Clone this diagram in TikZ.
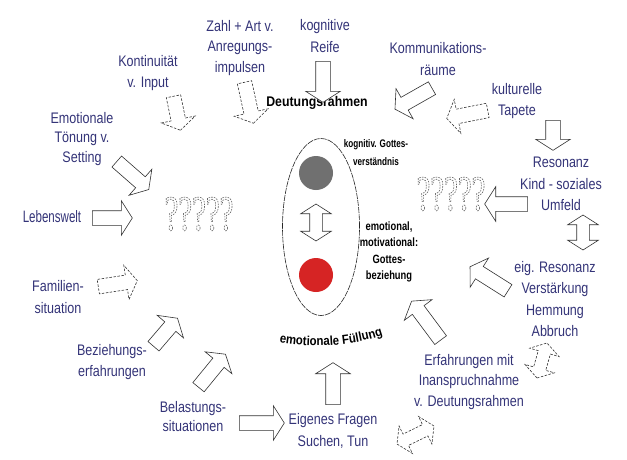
\documentclass[tikz,border=0pt]{standalone}
\usepackage{fontspec}
\setmainfont{Liberation Sans}[FakeStretch=0.82]
\newfontfamily\condfont{Liberation Sans}[FakeStretch=0.7]
\newfontfamily\blackfont{Liberation Sans Bold}[FakeStretch=0.88]
\newfontfamily\narrowblack{Liberation Sans Bold}[FakeStretch=0.74]
\newfontfamily\midblack{Liberation Sans Bold}[FakeStretch=0.78]
\newfontfamily\qfont{Liberation Serif}[FakeStretch=0.62]
\usetikzlibrary{shapes.arrows,shapes.geometric,calc,decorations.text}
\definecolor{txtblue}{RGB}{52,52,120}
\definecolor{grayc}{RGB}{112,112,112}
\definecolor{redc}{RGB}{214,36,36}
\newcommand\outlinetext[1]{\special{pdf:literal direct 1 Tr 0.6 w 0.4 G [1.6 1.1] 0 d}#1\special{pdf:literal direct 0 Tr [] 0 d}}
\newcommand\blockarr[4][]{\path let \p1=(#3), \p2=(#4), \n1={atan2(\y2-\y1,\x2-\x1)}, \n2={veclen(\x2-\x1,\y2-\y1)} in node[barrow,#1,rotate=\n1,minimum height=\n2] (#2) at ($(\p1)!0.5!(\p2)$) {};}
\begin{document}
\begin{tikzpicture}[x=1pt,y=-1pt,
  lbl/.style={text=txtblue, align=center, font=\fontsize{15.3}{21.5}\selectfont, inner sep=0pt},
  blacklbl/.style={text=black, align=center, inner sep=0pt},
  barrow/.style={single arrow, draw=black!80, fill=white, line width=0.6pt, inner xsep=0pt, inner ysep=7pt, single arrow head extend=10pt, single arrow tip angle=115, anchor=center},
  darrow/.style={double arrow, draw=black!80, fill=white, line width=0.6pt, inner xsep=0pt, inner ysep=6pt, double arrow head extend=9pt, double arrow tip angle=115, anchor=center},
  dsh/.style={dash pattern=on 2.5pt off 1.5pt},
  qm/.style={inner sep=0pt, font=\qfont\fontsize{50}{50}\selectfont}
]
\useasboundingbox (0,0) rectangle (627,459);
\fill[white] (0,0) rectangle (627,459);

% centre
\node[draw=black!85, line width=0.6pt, dash pattern=on 6pt off 1pt, ellipse, minimum width=77pt, minimum height=177pt, inner sep=0pt] (ell) at (321,227) {};
\node[circle, fill=grayc, minimum size=34pt, inner sep=0pt] (gc) at (316,173) {};
\node[circle, fill=redc, minimum size=34pt, inner sep=0pt] (rc) at (316,275) {};
\blockarr[darrow]{cda}{316,204}{316,241}

\node[blacklbl, font=\narrowblack\fontsize{11}{18}\selectfont] (kog) at (376,153) {kognitiv. Gottes-\\verständnis};
\node[blacklbl, font=\midblack\fontsize{12}{16.5}\selectfont] (emo) at (389,252) {emotional,\\motivational:\\Gottes-\\beziehung};
\node[blacklbl, font=\blackfont\fontsize{14}{14}\selectfont] (deut) at (317,103) {Deutungsrahmen};
\path[decorate, decoration={text along path, text align=center, text color=black,
  text={|\blackfont\fontsize{13}{13}\selectfont|emotionale Füllung}}]
  (270,340) .. controls (300,348) and (350,349) .. (392,332);

% question marks
\node[qm] (q1) at (199,214) {\outlinetext{?????}};
\node[qm] (q2) at (451,194) {\outlinetext{?????}};

% labels
\node[lbl] (reife) at (325,36) {kognitive\\Reife};
\node[lbl, font=\fontsize{15.3}{20.5}\selectfont] (zahl) at (240,48) {Zahl + Art v.\\Anregungs-\\impulsen};
\node[lbl] (kont) at (148,73) {Kontinuität\\v. Input};
\node[lbl, font=\fontsize{15.3}{19.5}\selectfont] (ton) at (82,139) {Emotionale\\Tönung v.\\Setting};
\node[lbl, font=\condfont\fontsize{16.5}{20}\selectfont] (leb) at (52,217) {Lebenswelt};
\node[lbl] (fam) at (58,297) {Familien-\\situation};
\node[lbl] (bez) at (112,362) {Beziehungs-\\erfahrungen};
\node[lbl, font=\fontsize{15.3}{19}\selectfont] (bel) at (193,417) {Belastungs-\\situationen};
\node[lbl] (eig) at (333,431) {Eigenes Fragen\\Suchen, Tun};
\node[lbl, font=\fontsize{15.3}{20.5}\selectfont] (erf) at (469,382) {Erfahrungen mit\\Inanspruchnahme\\v. Deutungsrahmen};
\node[lbl] (eres) at (555,299) {eig. Resonanz\\Verstärkung\\Hemmung\\Abbruch};
\node[lbl] (res) at (561,184) {Resonanz\\Kind - soziales\\Umfeld};
\node[lbl] (kul) at (517,101) {kulturelle\\Tapete};
\node[lbl] (komm) at (438,59) {Kommunikations-\\räume};

% arrows
\blockarr{a1}{323,59}{323,100}
\blockarr[dsh]{a2}{244,80}{253,121}
\blockarr[dsh]{a3}{173,94}{180,128}
\blockarr{a4}{115,160}{147,188}
\blockarr{a5}{90,218}{130,218}
\blockarr[dsh]{a6}{96,287}{135,281}
\blockarr{a7}{152,348}{176,320}
\blockarr{a8}{197,389}{224,356}
\blockarr{a9}{237,423}{282,423}
\blockarr{a10}{333,407}{333,365}
\blockarr[darrow,dsh]{a11}{397,444}{434,426}
\blockarr{a12}{442,342}{413,303}
\blockarr[darrow,dsh]{a13}{547,343}{537,378}
\blockarr{a14}{510,292}{472,268}
\blockarr[darrow]{a15}{583,215}{583,250}
\blockarr{a16}{530,204}{487,204}
\blockarr{a17}{553,118}{553,148}
\blockarr[dsh]{a18}{490,110}{449,118}
\blockarr{a19}{434,87}{397,108}
\end{tikzpicture}
\end{document}
